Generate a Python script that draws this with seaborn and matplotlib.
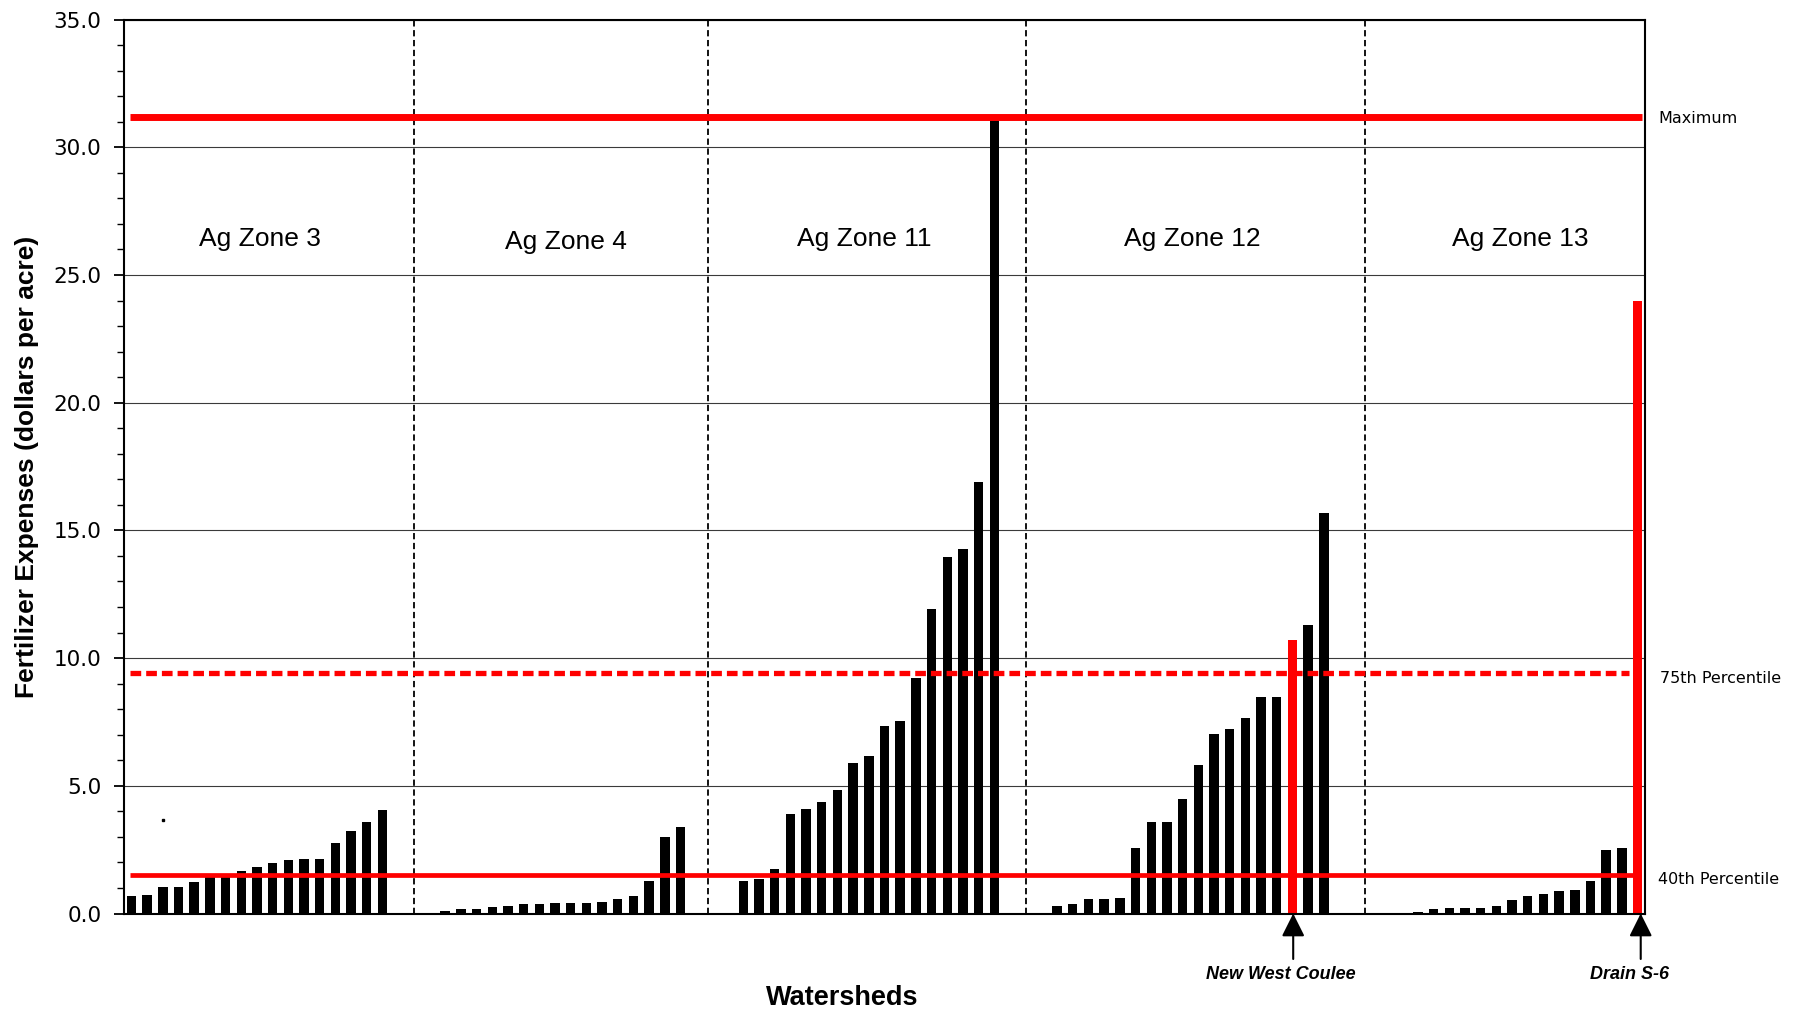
import matplotlib
matplotlib.use("Agg")
import numpy as np
import pandas as pd
import matplotlib.pyplot as plt
import matplotlib.transforms as mtransforms
from matplotlib.ticker import MultipleLocator
import seaborn as sns

# Fertilizer expenses per watershed (dollars per acre), sorted within each zone
zones = ["Ag Zone 3", "Ag Zone 4", "Ag Zone 11", "Ag Zone 12", "Ag Zone 13"]
zone3 = [0.68, 0.74, 1.03, 1.05, 1.25, 1.46, 1.47, 1.67, 1.82, 1.97, 2.09,
         2.14, 2.15, 2.75, 3.24, 3.59, 4.07]
zone4 = [0.10, 0.17, 0.17, 0.24, 0.31, 0.38, 0.38, 0.42, 0.42, 0.43, 0.46,
         0.55, 0.69, 1.29, 2.98, 3.37]
zone11 = [1.28, 1.35, 1.75, 3.90, 4.11, 4.36, 4.85, 5.89, 6.15, 7.34, 7.55,
          9.22, 11.94, 13.96, 14.26, 16.91, 31.07]
zone12 = [0.31, 0.39, 0.55, 0.56, 0.60, 2.58, 3.59, 3.59, 4.49, 5.80, 7.04,
          7.21, 7.66, 8.49, 8.49, 10.72, 11.28, 15.67]
zone13 = [0.02, 0.07, 0.17, 0.21, 0.21, 0.21, 0.28, 0.52, 0.67, 0.77, 0.90,
          0.92, 1.27, 2.49, 2.58, 23.99]
zone_values = [zone3, zone4, zone11, zone12, zone13]

# Highlighted watersheds: (name, zone, index within zone)
highlight_names = ["New West Coulee", "Drain S-6"]
highlight_zones = ["Ag Zone 12", "Ag Zone 13"]
highlight_index = [15, 15]

# Reference levels across all watersheds
maximum = 31.2
pct75 = 9.42
pct40 = 1.52

# Empty slots left between neighbouring zones
gap_slots = [3, 3, 3, 4]

# Build the slot table
rows = []
zone_first, zone_last = [], []
pos = 0
for zi, (zone, vals) in enumerate(zip(zones, zone_values)):
    zone_first.append(pos)
    for i, v in enumerate(vals):
        kind = "watershed"
        for hz, hi in zip(highlight_zones, highlight_index):
            if hz == zone and hi == i:
                kind = "highlight"
        rows.append({"slot": pos + i, "value": v, "zone": zone, "kind": kind})
    zone_last.append(pos + len(vals) - 1)
    pos += len(vals) + (gap_slots[zi] if zi < len(gap_slots) else 0)
n_slots = pos
df = pd.DataFrame(rows)

sns.set_theme(style="white")
plt.rcParams["font.family"] = ["Liberation Sans", "DejaVu Sans"]
plt.rcParams["lines.scale_dashes"] = False
plt.rcParams["text.color"] = "black"
plt.rcParams["axes.labelcolor"] = "black"

fig = plt.figure(figsize=(18.04, 10.13), dpi=100)
ax = fig.add_axes([0.0685, 0.0982, 0.8436, 0.8825])

sns.barplot(data=df, x="slot", y="value", hue="kind",
            palette={"watershed": "black", "highlight": "#ff0000"},
            saturation=1, native_scale=True, width=0.6, dodge=False,
            errorbar=None, linewidth=0, legend=False, ax=ax, zorder=2)

ax.set_xlim(-0.5, n_slots - 0.5)
ax.set_ylim(0, 35)

# Horizontal gridlines
ax.set_axisbelow(True)
ax.yaxis.grid(True, which="major", color="#3a3a3a", lw=0.8)
ax.xaxis.grid(False)

# Zone separators
divider_shift = [0.0, -0.27, 0.0, 0.15]
for k in range(len(zones) - 1):
    xd = (zone_last[k] + zone_first[k + 1]) / 2 + divider_shift[k]
    ax.axvline(xd, color="black", lw=1.3, dashes=(4.5, 2.6), zorder=3)

# Reference lines
x0 = zone_first[0] - 0.1
ax.plot([x0, zone_last[-1] + 0.25], [maximum, maximum], color="#ff0000", lw=5,
        solid_capstyle="butt", zorder=4)
ax.plot([x0, zone_last[-1] - 0.55], [pct75, pct75], color="#ff0000", lw=3.8,
        dashes=(7.7, 3.6), dash_capstyle="butt", zorder=4)
ax.plot([x0, zone_last[-1] - 0.3], [pct40, pct40], color="#ff0000", lw=3.4,
        solid_capstyle="butt", zorder=4)

trans = mtransforms.blended_transform_factory(ax.transAxes, ax.transData)
ax.text(1.0082, maximum - 0.08, "Maximum", transform=trans, ha="left",
        va="center", fontsize=11.5, family="DejaVu Sans", clip_on=False)
ax.text(1.0095, pct75 - 0.23, "75th Percentile", transform=trans, ha="left",
        va="center", fontsize=11.5, family="DejaVu Sans", clip_on=False)
ax.text(1.0082, pct40 - 0.2, "40th Percentile", transform=trans, ha="left",
        va="center", fontsize=11.5, family="DejaVu Sans", clip_on=False)

# Zone titles
label_x = [8.2, 27.7, 46.7, 67.6, 88.5]
label_y = [26.42, 26.28, 26.42, 26.42, 26.42]
for zone, lx, ly in zip(zones, label_x, label_y):
    ax.text(lx, ly, zone, ha="center", va="center", fontsize=19, zorder=5)

# Arrows pointing at the highlighted watersheds
arrow_dx = [0.05, 0.2]
text_dx = [-0.73, -0.5]
for name, hz, hi, adx, tdx in zip(highlight_names, highlight_zones,
                                   highlight_index, arrow_dx, text_dx):
    slot = zone_first[zones.index(hz)] + hi
    ax.annotate("", xy=(slot + adx, 0), xytext=(slot + adx, -1.78),
                arrowprops=dict(arrowstyle="-|>,head_length=1.0,head_width=0.5",
                                color="black", lw=1.5, shrinkA=0, shrinkB=0,
                                mutation_scale=14),
                annotation_clip=False, zorder=6)
    ax.text(slot + tdx, -2.4, name, ha="center", va="center", fontsize=13,
            fontweight="bold", fontstyle="italic", clip_on=False)

# Stray speck in zone 3
speck_x, speck_y = [2.0], [3.65]
ax.plot(speck_x, speck_y, marker="s", ms=1.6, color="black", lw=0, zorder=5)

# Axes styling
ax.set_xticks([])
ax.set_xlabel("")
ax.set_ylabel("")
yt = np.arange(0, 36, 5)
ax.set_yticks(yt)
ax.set_yticklabels([f"{v:.1f}" for v in yt], family="DejaVu Sans")
ax.yaxis.set_minor_locator(MultipleLocator(1))
ax.tick_params(axis="y", which="major", direction="out", length=7, width=1.3,
               labelsize=15.5, pad=9, color="black", labelcolor="black", left=True)
ax.tick_params(axis="y", which="minor", direction="out", length=5, width=1.0,
               color="black", left=True)
for sp in ax.spines.values():
    sp.set_visible(True)
    sp.set_color("black")
    sp.set_linewidth(1.5)
    sp.set_zorder(7)

ax.text(-0.0637, 0.5, "Fertilizer Expenses (dollars per acre)", rotation=90,
        transform=ax.transAxes, ha="center", va="center", fontsize=19,
        fontweight="bold", color="black")
fig.text(842 / 1804, 1 - 1005 / 1013, "Watersheds", ha="center",
         va="baseline", fontsize=19.5, fontweight="bold", color="black")

fig.savefig("out.png", dpi=100)
